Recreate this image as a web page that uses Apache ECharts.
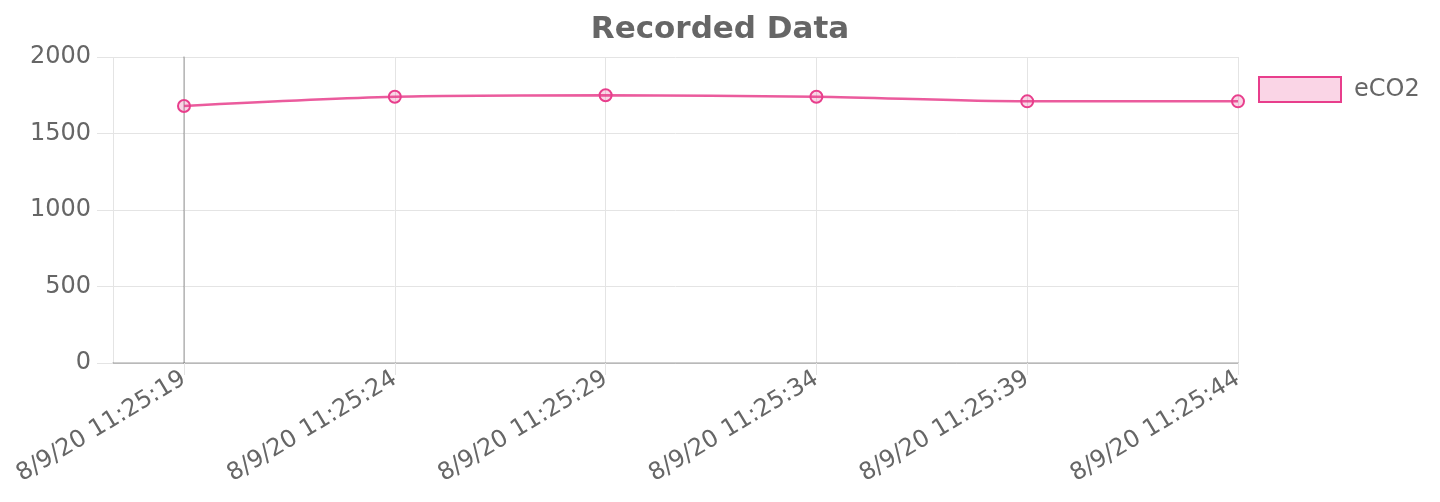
<!DOCTYPE html>
<html>
<head>
<meta charset="utf-8">
<script src="https://cdn.jsdelivr.net/npm/echarts@6/dist/echarts.min.js"></script>
<style>
  html, body { margin: 0; padding: 0; background: #fff; }
  #chart { width: 1440px; height: 502px; }
</style>
</head>
<body>
<div id="chart"></div>
<script>
// data
const timeLabels = ['8/9/20 11:25:19', '8/9/20 11:25:24', '8/9/20 11:25:29',
                    '8/9/20 11:25:34', '8/9/20 11:25:39', '8/9/20 11:25:44']
const eco2Values = [1680, 1740, 1750, 1740, 1710, 1710]
const yMin = 0
const yMax = 2000
const yStep = 500

const pink = '#e83e8c'
const pinkFill = 'rgba(232, 62, 140, 0.22)'
const gridColor = '#e4e4e4'
const axisColor = 'rgba(0, 0, 0, 0.25)'
const font = 'DejaVu Sans'

const chart = echarts.init(document.getElementById('chart'))

const options = {
    animation: false,
    textStyle: { fontFamily: font },
    title: {
        text: 'Recorded Data',
        left: 'center',
        top: 9,
        textStyle: { fontSize: 31, fontWeight: 'bold', color: '#666', fontFamily: font }
    },
    legend: {
        left: 1253,
        top: 71,
        icon: 'rect',
        itemWidth: 82,
        itemHeight: 25,
        itemStyle: { color: pinkFill, borderColor: pink, borderWidth: 2 },
        textStyle: { fontSize: 24, color: '#666', fontFamily: font, padding: [0, 0, 0, 8] },
        data: ['eCO2']
    },
    grid: [
        // outer frame: y axis and the left stub before the first sample
        { left: 113, right: 202, top: 57, bottom: 139 },
        // sample area
        { left: 184, right: 202, top: 57, bottom: 139 }
    ],
    xAxis: [
        {
            gridIndex: 0,
            type: 'value',
            min: 0,
            max: 1,
            interval: 1,
            axisLine: { show: true, lineStyle: { color: axisColor, width: 1.5 } },
            axisTick: { show: false },
            axisLabel: { show: false },
            splitLine: { show: true, lineStyle: { color: gridColor } }
        },
        {
            gridIndex: 1,
            type: 'category',
            boundaryGap: false,
            data: timeLabels,
            axisLine: { show: false },
            axisTick: { show: true, length: 12, lineStyle: { color: gridColor } },
            axisLabel: {
                rotate: 31,
                margin: 14,
                fontSize: 24,
                color: '#666',
                fontFamily: font
            },
            splitLine: { show: true, lineStyle: { color: gridColor } }
        }
    ],
    yAxis: [
        {
            gridIndex: 0,
            type: 'value',
            min: yMin,
            max: yMax,
            interval: yStep,
            axisLine: { show: false },
            axisTick: { show: true, length: 16, lineStyle: { color: gridColor } },
            axisLabel: {
                fontSize: 24, color: '#666', fontFamily: font, margin: 22,
                formatter: v => String(v)
            },
            splitLine: { show: true, lineStyle: { color: gridColor } }
        },
        {
            gridIndex: 1,
            type: 'value',
            min: yMin,
            max: yMax,
            interval: yStep,
            axisLine: { show: true, lineStyle: { color: axisColor, width: 1.5 } },
            axisTick: { show: false },
            axisLabel: { show: false },
            splitLine: { show: false }
        }
    ],
    series: [
        {
            name: 'eCO2',
            type: 'line',
            xAxisIndex: 1,
            yAxisIndex: 1,
            data: eco2Values,
            smooth: 0.3,
            symbol: 'circle',
            symbolSize: 12,
            lineStyle: { color: pink, width: 2.5, opacity: 0.85 },
            itemStyle: { color: pinkFill, borderColor: pink, borderWidth: 2 }
        }
    ]
}

chart.setOption(options)
</script>
</body>
</html>
